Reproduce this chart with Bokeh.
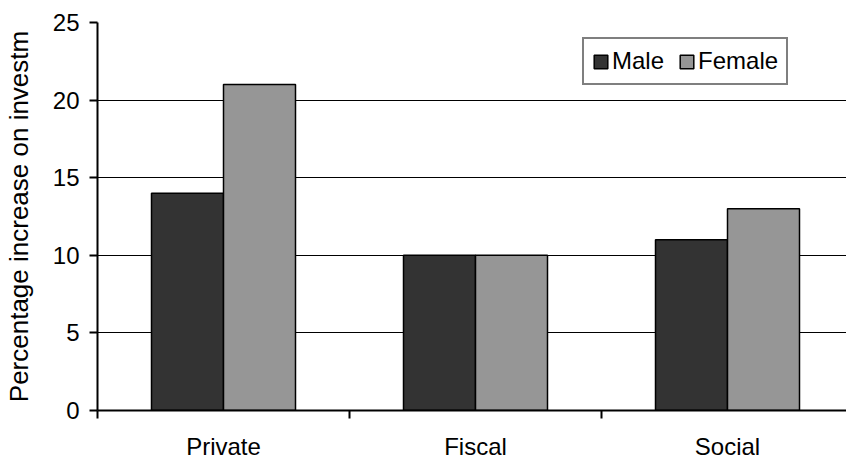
from bokeh.plotting import figure
from bokeh.models import (ColumnDataSource, FixedTicker, Range1d, Legend, LegendItem)
from bokeh.embed import file_html
from bokeh.resources import INLINE

# ---- data ----
categories = ["Private", "Fiscal", "Social"]
male = [14, 10, 11]
female = [21, 10, 13]
y_ticks = [0, 5, 10, 15, 20, 25]

FONT = "Liberation Sans"

n = len(categories)
bar_w = 2 / 7          # Excel-like gap width 75%
centers = [i + 0.5 for i in range(n)]

src = ColumnDataSource(dict(
    xm=[c - bar_w / 2 for c in centers],
    xf=[c + bar_w / 2 for c in centers],
    male=male,
    female=female,
))

W, H = 846, 462
frame_left = 97
frame_w = W - frame_left
cat_px = 252

p = figure(width=W, height=H, output_backend="svg", toolbar_location=None,
           x_range=Range1d(0, frame_w / cat_px), y_range=Range1d(0, 25),
           min_border_left=frame_left, min_border_right=0,
           min_border_top=22, min_border_bottom=52)

p.outline_line_color = None
p.background_fill_color = "white"
p.border_fill_color = "white"

rm = p.vbar(x="xm", top="male", width=bar_w, source=src,
            fill_color="#333333", line_color="black", line_width=1.5)
rf = p.vbar(x="xf", top="female", width=bar_w, source=src,
            fill_color="#969696", line_color="black", line_width=1.5)

# x axis: labels at centers, ticks at category boundaries
xa = p.xaxis[0]
xa.ticker = FixedTicker(ticks=centers, minor_ticks=list(range(n + 1)))
xa.major_label_overrides = {c: lab for c, lab in zip(centers, categories)}
xa.major_tick_out = 0
xa.major_tick_in = 0
xa.minor_tick_out = 8
xa.minor_tick_in = 0
xa.minor_tick_line_color = "black"
xa.minor_tick_line_width = 2
xa.axis_line_color = "black"
xa.axis_line_width = 2
xa.major_label_text_font = FONT
xa.major_label_text_font_size = "24px"
xa.major_label_text_color = "black"
xa.major_label_standoff = 14

ya = p.yaxis[0]
ya.ticker = FixedTicker(ticks=y_ticks, minor_ticks=[])
ya.major_tick_out = 8
ya.major_tick_in = 0
ya.major_tick_line_color = "black"
ya.major_tick_line_width = 2
ya.axis_line_color = "black"
ya.axis_line_width = 2
ya.major_label_text_font = FONT
ya.major_label_text_font_size = "24px"
ya.major_label_text_color = "black"
ya.major_label_standoff = 10
ya.axis_label = "Percentage increase on investm"
ya.axis_label_text_font = FONT
ya.axis_label_text_font_size = "26px"
ya.axis_label_text_font_style = "normal"
ya.axis_label_text_color = "black"
ya.axis_label_standoff = 16

p.xgrid.grid_line_color = None
p.ygrid.grid_line_color = "black"
p.ygrid.grid_line_width = 1
p.ygrid.ticker = FixedTicker(ticks=y_ticks[1:])

legend = Legend(items=[LegendItem(label="Male", renderers=[rm]),
                       LegendItem(label="Female", renderers=[rf])],
                location=(485, 325), orientation="horizontal")
legend.border_line_color = "black"
legend.border_line_width = 2
legend.background_fill_color = "white"
legend.background_fill_alpha = 1
legend.label_text_font = FONT
legend.label_text_font_size = "24px"
legend.label_text_color = "black"
legend.glyph_width = 17
legend.glyph_height = 17
legend.padding = 8
legend.spacing = 14
legend.label_standoff = 3
legend.margin = 0
p.add_layout(legend, "center")

open("out.html", "w").write(file_html(p, INLINE))
